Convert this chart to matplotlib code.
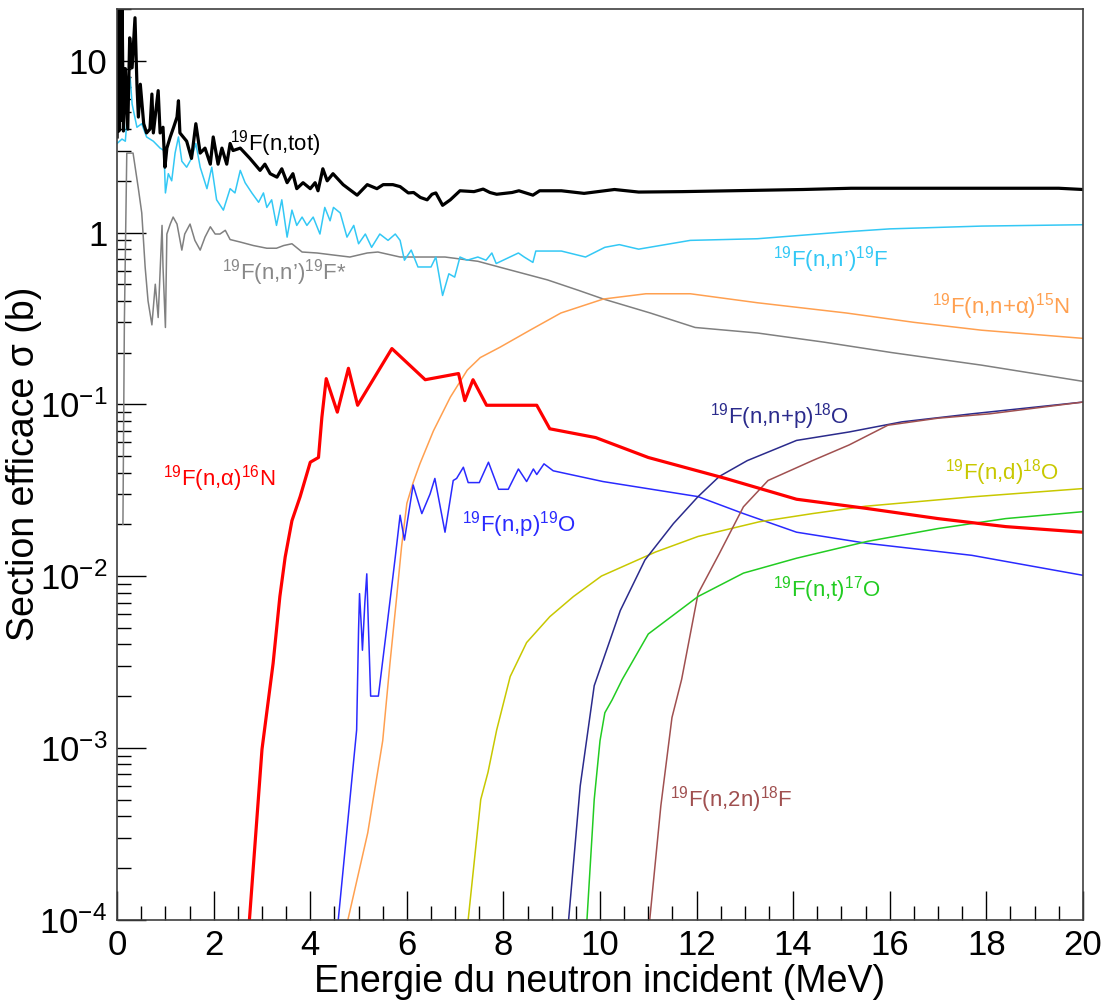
import matplotlib
matplotlib.use('Agg')
import matplotlib.pyplot as plt
from matplotlib.ticker import MultipleLocator, LogLocator, NullFormatter

plt.rcParams['font.family'] = ['Liberation Sans', 'DejaVu Sans']
plt.rcParams['mathtext.fontset'] = 'custom'
plt.rcParams['mathtext.rm'] = 'Liberation Sans'
plt.rcParams['mathtext.it'] = 'Liberation Sans'
plt.rcParams['mathtext.default'] = 'regular'

# 19F(n,tot)
tot_e = [0.0, 0.02, 0.04, 0.06, 0.08, 0.10, 0.13, 0.17, 0.22, 0.26, 0.31, 0.37, 0.41, 0.44, 0.48,
         0.55, 0.61, 0.68, 0.72, 0.75, 0.85, 0.89, 0.95, 0.99, 1.03, 1.10, 1.17, 1.24, 1.27, 1.30,
         1.44, 1.54, 1.63, 1.72, 1.82, 1.93, 1.99, 2.09, 2.17, 2.27, 2.34, 2.40, 2.55, 2.75, 2.96,
         3.06, 3.17, 3.31, 3.41, 3.52, 3.64, 3.72, 3.85, 4.00, 4.10, 4.16, 4.26, 4.35, 4.47, 4.68,
         4.79, 4.97, 5.18, 5.38, 5.51, 5.71, 5.86, 6.03, 6.14, 6.28, 6.42, 6.52, 6.60, 6.74, 6.90,
         7.10, 7.39, 7.58, 7.72, 7.86, 8.18, 8.32, 8.61, 8.75, 9.20, 9.67, 10.3, 10.8, 11.7, 14.2,
         15.2, 19.5, 20.0]
tot_s = [3.6, 25, 3.9, 25, 4.5, 25, 3.9, 9.0, 4.0, 13.6, 9.1, 17.8, 7.3, 4.7, 7.3,
         4.3, 3.8, 4.0, 6.4, 3.8, 6.7, 3.8, 4.1, 2.4, 3.1, 3.6, 4.1, 4.7, 5.85, 3.8,
         3.4, 2.7, 4.3, 2.9, 3.1, 2.5, 3.6, 2.5, 3.1, 2.5, 3.3, 3.0, 3.1, 2.7, 2.3,
         2.5, 2.2, 2.1, 2.35, 1.95, 2.2, 1.8, 1.95, 1.8, 1.95, 1.75, 2.35, 2.0, 2.2, 1.9,
         1.8, 1.65, 1.9, 1.8, 1.9, 1.9, 1.85, 1.7, 1.71, 1.6, 1.55, 1.67, 1.7, 1.44, 1.55,
         1.75, 1.73, 1.79, 1.71, 1.67, 1.71, 1.75, 1.65, 1.75, 1.75, 1.69, 1.78, 1.72, 1.73, 1.78,
         1.81, 1.81, 1.78]

# 19F(n,n')19F
inel_e = [0.0, 0.1, 0.17, 0.27, 0.31, 0.41, 0.51, 0.61, 0.75, 0.89, 0.97, 1.0, 1.06, 1.13, 1.2,
          1.27, 1.34, 1.44, 1.54, 1.63, 1.72, 1.86, 1.96, 2.06, 2.2, 2.34, 2.44, 2.55, 2.65, 2.79,
          2.93, 3.03, 3.1, 3.2, 3.3, 3.41, 3.52, 3.62, 3.72, 3.83, 3.93, 4.06, 4.2, 4.3, 4.41,
          4.48, 4.62, 4.76, 4.9, 5.0, 5.14, 5.27, 5.44, 5.61, 5.76, 5.86, 5.95, 6.09, 6.23, 6.5,
          6.6, 6.74, 6.87, 6.99, 7.1, 7.25, 7.47, 7.64, 7.76, 7.85, 8.31, 8.43, 8.61, 8.67, 9.2,
          9.7, 10.1, 10.4, 10.8, 11.87, 13.26, 15.1, 16.0, 17.9, 20.0]
inel_s = [3.3, 3.5, 3.4, 8.0, 5.6, 4.1, 4.3, 3.6, 3.4, 3.1, 3.0, 1.7, 2.2, 2.0, 2.9,
          3.6, 2.6, 2.4, 2.7, 3.3, 2.4, 1.8, 2.4, 1.55, 1.35, 1.8, 1.7, 2.3, 1.95, 1.7,
          1.5, 1.7, 1.4, 1.55, 1.1, 1.55, 0.94, 1.35, 1.1, 1.23, 1.1, 1.23, 0.98, 1.4, 1.17,
          1.4, 1.3, 0.94, 1.1, 0.86, 0.98, 0.82, 0.98, 0.9, 0.98, 0.9, 0.69, 0.79, 0.63, 0.63,
          0.72, 0.43, 0.575, 0.55, 0.72, 0.69, 0.72, 0.69, 0.76, 0.66, 0.76, 0.72, 0.67, 0.78, 0.78,
          0.72, 0.82, 0.85, 0.8, 0.9, 0.92, 1.01, 1.05, 1.09, 1.11]

# 19F(n,n')19F*
exc_e = [0.12, 0.15, 0.2, 0.33, 0.44, 0.51, 0.58, 0.64, 0.72, 0.79, 0.85, 0.93, 0.95, 1.0, 1.03,
         1.1, 1.16, 1.24, 1.34, 1.4, 1.51, 1.61, 1.72, 1.82, 1.93, 2.03, 2.13, 2.24, 2.34, 2.55,
         2.82, 3.1, 3.3, 3.45, 3.62, 3.83, 4.14, 4.47, 4.82, 5.18, 5.4, 5.86, 6.79, 7.47, 8.0,
         8.91, 9.56, 10.07, 11.04, 11.97, 13.26, 14.64, 16.04, 17.9, 20.0]
exc_s = [0.02, 0.3, 2.9, 2.9, 1.8, 1.3, 0.63, 0.4, 0.29, 0.5, 0.32, 1.1, 0.63, 0.28, 0.98,
         1.12, 1.23, 1.12, 0.79, 0.98, 1.12, 0.9, 0.79, 0.94, 1.08, 0.98, 0.98, 1.03, 0.91, 0.88,
         0.84, 0.81, 0.81, 0.84, 0.86, 0.77, 0.76, 0.74, 0.72, 0.76, 0.77, 0.72, 0.72, 0.68, 0.62,
         0.53, 0.46, 0.41, 0.34, 0.28, 0.26, 0.23, 0.20, 0.169, 0.136]

# 19F(n,n+alpha)15N
na_e = [4.78, 5.19, 5.5, 5.65, 5.79, 5.89, 6.0, 6.13, 6.27, 6.55, 6.9, 7.25, 7.52, 7.93, 8.55,
        9.19, 10.07, 10.95, 11.87, 13.26, 15.1, 16.5, 17.9, 20.0]
na_s = [1e-4, 3.2e-4, 1.1e-3, 3.1e-3, 7.6e-3, 0.0148, 0.0265, 0.035, 0.045, 0.07, 0.11, 0.158, 0.187, 0.215, 0.27,
        0.34, 0.41, 0.44, 0.44, 0.39, 0.34, 0.30, 0.27, 0.242]

# 19F(n,alpha)16N
alpha_e = [2.74, 3.0, 3.23, 3.37, 3.48, 3.62, 3.79, 4.0, 4.17, 4.24, 4.33, 4.56, 4.79, 4.98, 5.69,
           6.38, 7.07, 7.2, 7.37, 7.65, 8.69, 8.96, 9.91, 11.0, 12.6, 14.07, 15.5, 17.0, 18.4, 20.0]
alpha_s = [1e-4, 9.8e-4, 3.1e-3, 7.6e-3, 0.0129, 0.021, 0.029, 0.046, 0.049, 0.084, 0.141, 0.090, 0.162, 0.0987, 0.211,
           0.139, 0.151, 0.105, 0.139, 0.0987, 0.0987, 0.072, 0.064, 0.049, 0.037, 0.028, 0.0248, 0.0216, 0.0194, 0.018]

# 19F(n,p)19O
p_e = [4.58, 4.96, 5.0, 5.02, 5.06, 5.08, 5.13, 5.17, 5.2, 5.25, 5.41, 5.58, 5.76, 5.86, 5.95,
       6.13, 6.31, 6.48, 6.58, 6.79, 6.96, 7.03, 7.17, 7.27, 7.5, 7.69, 7.9, 8.1, 8.31, 8.48,
       8.62, 8.69, 8.84, 9.03, 10.06, 12.03, 12.97, 14.07, 15.53, 17.7, 20.0]
p_s = [1e-4, 1.27e-3, 4.9e-3, 7.9e-3, 4.9e-3, 3.7e-3, 7e-3, 0.0103, 5.5e-3, 2.0e-3, 2.0e-3, 4.9e-3, 0.0129, 0.0226, 0.0162,
       0.0339, 0.0231, 0.030, 0.037, 0.018, 0.036, 0.037, 0.043, 0.035, 0.035, 0.046, 0.032, 0.032, 0.042, 0.0355,
       0.042, 0.039, 0.045, 0.041, 0.0355, 0.029, 0.0231, 0.018, 0.0155, 0.0132, 0.0101]

# 19F(n,d)18O
d_e = [7.27, 7.53, 7.68, 7.86, 8.14, 8.48, 8.96, 9.45, 10.03, 11.15, 12.03, 13.3, 14.4, 15.5, 17.7, 20.0]
d_s = [1e-4, 5e-4, 7.2e-4, 1.27e-3, 2.6e-3, 4.1e-3, 5.8e-3, 7.6e-3, 0.010, 0.0138, 0.017, 0.0207, 0.0231, 0.0255, 0.0289, 0.0323]

# 19F(n,n+p)18O
np_e = [9.35, 9.59, 9.88, 10.42, 10.93, 11.52, 12.03, 12.47, 13.05, 14.07, 15.16, 16.25, 17.7, 20.0]
np_s = [1e-4, 6e-4, 2.3e-3, 6.3e-3, 0.0124, 0.0202, 0.029, 0.038, 0.047, 0.0616, 0.069, 0.079, 0.088, 0.103]

# 19F(n,2n)18F
n2n_e = [11.03, 11.26, 11.49, 11.69, 12.03, 12.47, 12.97, 13.48, 14.4, 15.16, 15.96, 17.0, 18.07, 20.0]
n2n_s = [1e-4, 4.6e-4, 1.5e-3, 2.5e-3, 7.9e-3, 0.0135, 0.0253, 0.036, 0.047, 0.058, 0.0755, 0.083, 0.088, 0.103]

# 19F(n,t)17O
t_e = [9.73, 9.88, 10.0, 10.1, 10.25, 10.46, 11.0, 12.03, 12.97, 14.07, 15.53, 17.0, 18.4, 20.0]
t_s = [1e-4, 5e-4, 1.1e-3, 1.6e-3, 1.9e-3, 2.5e-3, 4.6e-3, 7.6e-3, 0.0104, 0.0127, 0.0159, 0.0189, 0.0216, 0.0237]


fig = plt.figure(figsize=(11.05, 10.05), dpi=100)
ax = fig.add_axes([0.106, 0.085, 0.874, 0.906])

ax.plot(exc_e, exc_s, color='#808080', lw=1.1)
ax.plot(inel_e, inel_s, color='#33C8F5', lw=1.1)
ax.plot(na_e, na_s, color='#FFA050', lw=1.1)
ax.plot(p_e, p_s, color='#2A2AFF', lw=1.1)
ax.plot(d_e, d_s, color='#C8C800', lw=1.1)
ax.plot(np_e, np_s, color='#2B2B8C', lw=1.1)
ax.plot(n2n_e, n2n_s, color='#A05050', lw=1.1)
ax.plot(t_e, t_s, color='#22CC22', lw=1.1)
ax.plot(alpha_e, alpha_s, color='#FF0000', lw=2.3)
ax.plot(tot_e, tot_s, color='black', lw=2.3)

ax.set_yscale('log')
ax.set_xlim(0, 20)
ax.set_ylim(1e-4, 20)

ax.xaxis.set_major_locator(MultipleLocator(2))
ax.xaxis.set_minor_locator(MultipleLocator(0.5))
ax.set_yticks([1e-4, 1e-3, 1e-2, 1e-1, 1, 10])
ax.set_yticklabels(['10$^{-4}$', '10$^{-3}$', '10$^{-2}$', '10$^{-1}$', '1', '10'])
ax.yaxis.set_minor_locator(LogLocator(base=10, subs=range(2, 10)))
ax.yaxis.set_minor_formatter(NullFormatter())

ax.tick_params(which='both', direction='in', top=False, right=False, labelsize=25, colors='black')
ax.tick_params(which='major', length=21, width=1.0, pad=7)
ax.tick_params(which='minor', length=10, width=1.0)
for sp in ax.spines.values():
    sp.set_color('#404040')
    sp.set_linewidth(1.2)

ax.set_xlabel('Energie du neutron incident (MeV)', fontsize=27, labelpad=1)
ax.set_ylabel('Section efficace σ (b)', fontsize=27, labelpad=-2)

fs = 16
ax.text(2.34, 3.3, '$^{19}$F(n,tot)', color='black', fontsize=fs, va='center')
ax.text(2.17, 0.585, '$^{19}$F(n,n’)$^{19}$F*', color='#888888', fontsize=fs, va='center')
ax.text(13.58, 0.70, '$^{19}$F(n,n’)$^{19}$F', color='#33C8F5', fontsize=fs, va='center')
ax.text(16.87, 0.37, '$^{19}$F(n,n+α)$^{15}$N', color='#FFA050', fontsize=fs, va='center')
ax.text(0.95, 0.037, '$^{19}$F(n,α)$^{16}$N', color='#FF0000', fontsize=fs, va='center')
ax.text(7.14, 0.020, '$^{19}$F(n,p)$^{19}$O', color='#2A2AFF', fontsize=fs, va='center')
ax.text(12.28, 0.085, '$^{19}$F(n,n+p)$^{18}$O', color='#2B2B8C', fontsize=fs, va='center')
ax.text(17.14, 0.040, '$^{19}$F(n,d)$^{18}$O', color='#C8C800', fontsize=fs, va='center')
ax.text(13.58, 0.0083, '$^{19}$F(n,t)$^{17}$O', color='#22CC22', fontsize=fs, va='center')
ax.text(11.45, 5e-4, '$^{19}$F(n,2n)$^{18}$F', color='#A05050', fontsize=fs, va='center')

fig.savefig('out.png', dpi=100)
